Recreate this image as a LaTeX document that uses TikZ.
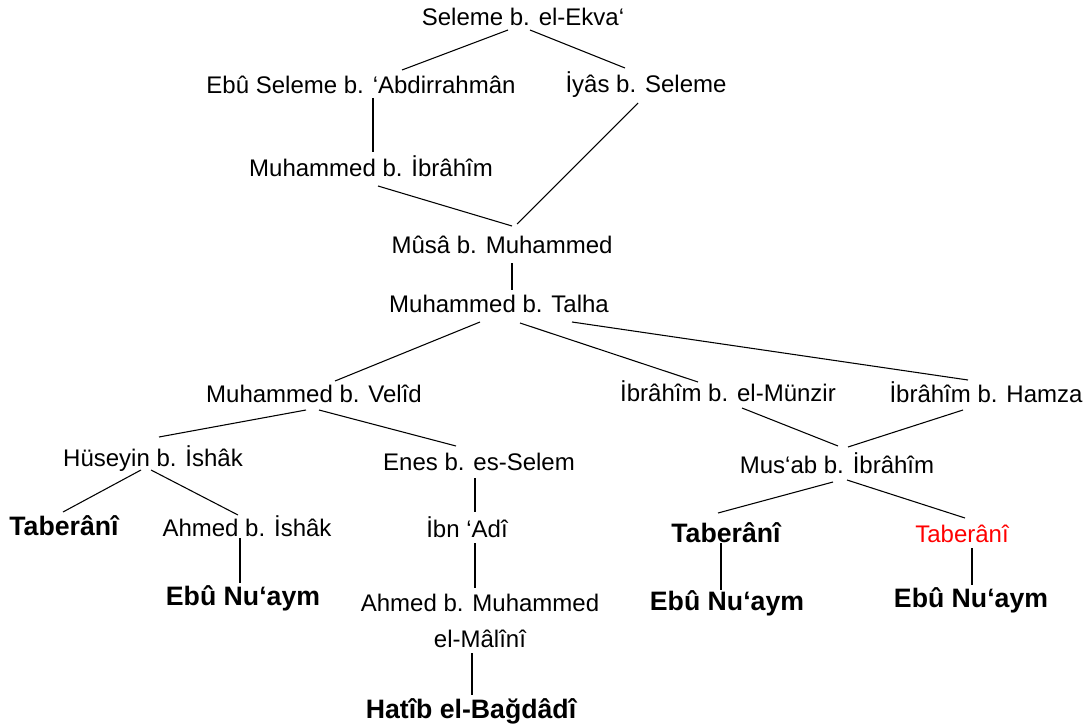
\documentclass[tikz,border=0pt]{standalone}
\usepackage{fontspec}
\setmainfont{Liberation Sans}
\usetikzlibrary{calc}
\definecolor{namered}{RGB}{255,0,0}
\begin{document}
\begin{tikzpicture}[x=0.75pt,y=-0.75pt,
  narrator/.style={anchor=base,inner sep=0pt,font=\fontsize{18}{27}\selectfont},
  source/.style={anchor=base,inner sep=0pt,font=\fontsize{20}{24}\selectfont\bfseries},
  link/.style={line width=0.8pt,black}]
\useasboundingbox[fill=white] (0,0) rectangle (1087,727);

% narrators
\node[narrator] (sel)    at (523,26)  {Seleme b. el-Ekva‘};
\node[narrator] (ebu)    at (361,94)  {Ebû Seleme b. ‘Abdirrahmân};
\node[narrator] (iyas)   at (646,93)  {İyâs b. Seleme};
\node[narrator] (mib)    at (371,177) {Muhammed b. İbrâhîm};
\node[narrator] (musa)   at (502,253) {Mûsâ b. Muhammed};
\node[narrator] (talha)  at (499,312) {Muhammed b. Talha};
\node[narrator] (velid)  at (314,402) {Muhammed b. Velîd};
\node[narrator] (munzir) at (728,401) {İbrâhîm b. el-Münzir};
\node[narrator] (hamza)  at (986,402) {İbrâhîm b. Hamza};
\node[narrator] (huseyin) at (153,466) {Hüseyin b. İshâk};
\node[narrator] (enes)   at (479,470) {Enes b. es-Selem};
\node[narrator] (musab)  at (837,473) {Mus‘ab b. İbrâhîm};
\node[narrator] (ahmed)  at (247,536) {Ahmed b. İshâk};
\node[narrator] (ibnadi) at (467,537) {İbn ‘Adî};
% two-line name: the base anchor sits on the second line
\node[narrator,align=center] (ahmedm) at (480,647) {Ahmed b. Muhammed\\el-Mâlînî};
\node[narrator,text=namered] (tab3) at (962,542) {Taberânî};

% compilers
\node[source] (tab1)  at (64,535)  {Taberânî};
\node[source] (tab2)  at (726,542) {Taberânî};
\node[source] (ebu1)  at (243,605) {Ebû Nu‘aym};
\node[source] (ebu2)  at (727,610) {Ebû Nu‘aym};
\node[source] (ebu3)  at (971,607) {Ebû Nu‘aym};
\node[source] (hatib) at (471,718) {Hatîb el-Bağdâdî};

% chains
\draw[link] ($(sel.base)+(-15,4)$)    -- ($(ebu.base)+(41,-24)$);
\draw[link] ($(sel.base)+(7,4)$)      -- ($(iyas.base)+(-21,-25)$);
\draw[link] ($(ebu.base)+(12,4)$)     -- ($(mib.base)+(2,-25)$);
\draw[link] ($(mib.base)+(7,9)$)      -- ($(musa.base)+(10,-27)$);
\draw[link] ($(iyas.base)+(-8,10)$)   -- ($(musa.base)+(15,-29)$);
\draw[link] ($(musa.base)+(10,10)$)   -- ($(talha.base)+(13,-22)$);
\draw[link] ($(talha.base)+(-19,10)$) -- ($(velid.base)+(21,-21)$);
\draw[link] ($(talha.base)+(21,11)$)  -- ($(munzir.base)+(-30,-19)$);
\draw[link] ($(talha.base)+(73,10)$)  -- ($(hamza.base)+(-18,-22)$);
\draw[link] ($(velid.base)+(-8,8)$)   -- ($(huseyin.base)+(6,-29)$);
\draw[link] ($(velid.base)+(5,8)$)    -- ($(enes.base)+(-23,-24)$);
\draw[link] ($(huseyin.base)+(-12,4)$) -- ($(tab1.base)+(-1,-23)$);
\draw[link] ($(huseyin.base)+(-2,4)$) -- ($(ahmed.base)+(-9,-21)$);
\draw[link] ($(ahmed.base)+(-7,2)$)   -- ($(ebu1.base)+(-3,-22)$);
\draw[link] ($(enes.base)+(-4,8)$)    -- ($(ibnadi.base)+(8,-25)$);
\draw[link] ($(ibnadi.base)+(8,6)$)   -- ($(ahmedm.base)+(-5,-59)$);
\draw[link] ($(ahmedm.base)+(-8,6)$)  -- ($(hatib.base)+(1,-23)$);
\draw[link] ($(munzir.base)+(14,7)$)  -- ($(musab.base)+(1,-27)$);
\draw[link] ($(hamza.base)+(-23,8)$)  -- ($(musab.base)+(11,-26)$);
\draw[link] ($(musab.base)+(-4,9)$)   -- ($(tab2.base)+(-8,-29)$);
\draw[link] ($(musab.base)+(10,7)$)   -- ($(tab3.base)+(3,-24)$);
\draw[link] ($(tab2.base)+(-5,1)$)    -- ($(ebu2.base)+(-6,-20)$);
\draw[link] ($(tab3.base)+(10,6)$)    -- ($(ebu3.base)+(1,-22)$);
\end{tikzpicture}
\end{document}
